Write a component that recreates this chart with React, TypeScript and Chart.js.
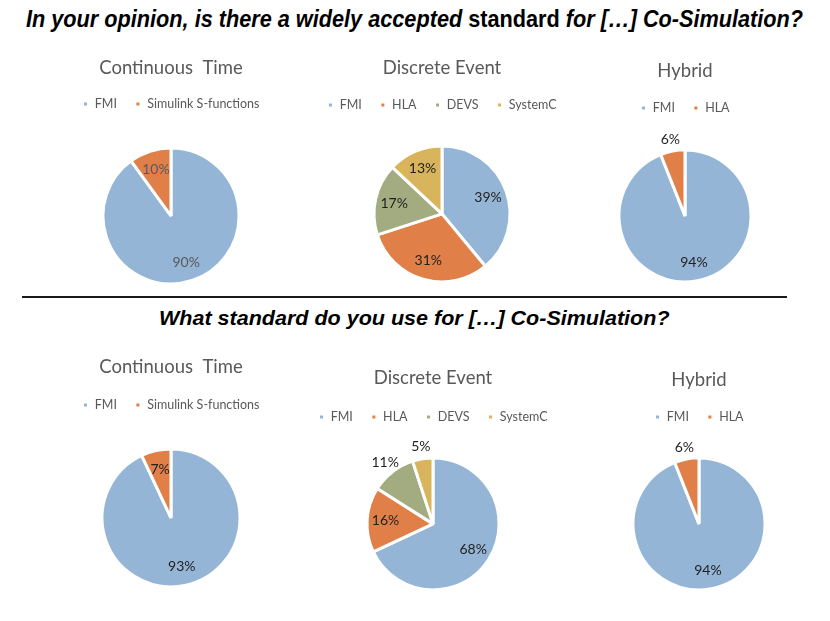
import React, { useEffect, useLayoutEffect, useRef } from "react";
import { Chart, registerables } from "chart.js";

Chart.register(...registerables);

// ---------- data ----------
const ctLabels = ["FMI", "Simulink S-functions"];
const deLabels = ["FMI", "HLA", "DEVS", "SystemC"];
const hyLabels = ["FMI", "HLA"];

const opinionCT = [90, 10];
const opinionDE = [39, 31, 17, 13];
const opinionHY = [94, 6];

const useCT = [93, 7];
const useDE = [68, 16, 11, 5];
const useHY = [94, 6];

const titleCT = "Continuous  Time";
const titleDE = "Discrete Event";
const titleHY = "Hybrid";

const heading1a = "In your opinion, is there a widely accepted ";
const heading1b = "standard";
const heading1c = " for [\u2026] Co-Simulation?";
const heading2 = "What standard do you use for [\u2026] Co-Simulation?";

// ---------- styles ----------
const FONT = "Lato, 'Open Sans', sans-serif";
const BLUE = "#95B5D6";
const ORANGE = "#E08048";
const GREEN = "#A3AC80";
const YELLOW = "#D8B45C";
const colorsCT = [BLUE, ORANGE];
const colorsDE = [BLUE, ORANGE, GREEN, YELLOW];
const colorsHY = [BLUE, ORANGE];

const TITLE_FS = 18.5;
const LEGEND_FS = 12.5;
const LEGEND_PAD = 18;
const LEGEND_H = 30;

const sliceLabels = {
  id: "sliceLabels",
  afterDatasetsDraw(chart: any, _args: any, opts: any) {
    const { ctx } = chart;
    const meta = chart.getDatasetMeta(0);
    const data = chart.data.datasets[0].data as number[];
    ctx.save();
    ctx.font = `14px ${FONT}`;
    ctx.fillStyle = opts.color || "#222";
    ctx.textAlign = "center";
    ctx.textBaseline = "middle";
    meta.data.forEach((arc: any, i: number) => {
      const p = arc.getProps(["x", "y", "startAngle", "endAngle", "outerRadius"], true);
      const mid = (p.startAngle + p.endAngle) / 2;
      const out = opts.outside && opts.outside[i];
      const rr = out ? p.outerRadius + 12 : p.outerRadius * 0.72;
      ctx.fillText(`${data[i]}%`, p.x + Math.cos(mid) * rr, p.y + Math.sin(mid) * rr);
    });
    ctx.restore();
  },
};

type PieCfg = {
  title: string;
  labels: string[];
  values: number[];
  colors: string[];
  cx: number;
  cy: number;
  r: number;
  titleY: number;
  legendY: number;
  labelColor: string;
  outside: boolean[];
};

function PieChart({ cfg }: { cfg: PieCfg }) {
  const ref = useRef<HTMLCanvasElement>(null);
  const W = 270;
  const lh = TITLE_FS * 1.2;
  const T = Math.round(cfg.titleY - 16);
  const tp = cfg.titleY - lh / 2 - T;
  const legendTop = cfg.legendY - LEGEND_PAD - LEGEND_FS / 2;
  const tb = legendTop - (T + tp + lh);
  const chartTop = legendTop + LEGEND_H;
  const H = Math.round(2 * cfg.cy - chartTop - T);
  const left = Math.round(cfg.cx - W / 2);

  useEffect(() => {
    const chart = new Chart(ref.current as HTMLCanvasElement, {
      type: "pie",
      data: {
        labels: cfg.labels,
        datasets: [
          {
            data: cfg.values,
            backgroundColor: cfg.colors,
            borderColor: "#ffffff",
            borderWidth: 3,
          },
        ],
      },
      options: {
        animation: false,
        responsive: false,
        radius: cfg.r + 1,
        layout: { padding: 0 },
        plugins: {
          title: {
            display: true,
            text: cfg.title,
            color: "#595959",
            font: { family: FONT, size: TITLE_FS, weight: "normal", lineHeight: 1.2 },
            padding: { top: tp, bottom: tb },
          },
          legend: {
            display: true,
            position: "top",
            maxHeight: LEGEND_H,
            labels: {
              boxWidth: 6,
              boxHeight: 6,
              color: "#595959",
              padding: LEGEND_PAD,
              font: { family: FONT, size: LEGEND_FS },
            },
          },
          tooltip: { enabled: false },
          sliceLabels: { color: cfg.labelColor, outside: cfg.outside },
        } as any,
      },
      plugins: [sliceLabels as any],
    });
    return () => chart.destroy();
  }, []);

  return (
    <canvas
      ref={ref}
      width={W}
      height={H}
      style={{ position: "absolute", left, top: T, width: W, height: H }}
    />
  );
}

function FitText({
  children,
  x,
  top,
  width,
  size,
}: {
  children: React.ReactNode;
  x: number;
  top: number;
  width: number;
  size: number;
}) {
  const ref = useRef<HTMLSpanElement>(null);
  useLayoutEffect(() => {
    const el = ref.current;
    if (!el) return;
    const w = el.offsetWidth;
    if (w > 0) el.style.transform = `scaleX(${width / w})`;
  }, []);
  return (
    <div style={{ position: "absolute", left: x, top, whiteSpace: "nowrap" }}>
      <span
        ref={ref}
        style={{
          display: "inline-block",
          transformOrigin: "left top",
          fontFamily: "'Liberation Sans', Arial, sans-serif",
          fontWeight: "bold",
          fontStyle: "italic",
          fontSize: size,
          lineHeight: 1,
          color: "#000",
        }}
      >
        {children}
      </span>
    </div>
  );
}

const pies: PieCfg[] = [
  { title: titleCT, labels: ctLabels, values: opinionCT, colors: colorsCT, cx: 171, cy: 216, r: 67, titleY: 68, legendY: 104, labelColor: "#595959", outside: [false, false] },
  { title: titleDE, labels: deLabels, values: opinionDE, colors: colorsDE, cx: 442, cy: 214, r: 67, titleY: 68, legendY: 105, labelColor: "#1f1f1f", outside: [false, false, false, false] },
  { title: titleHY, labels: hyLabels, values: opinionHY, colors: colorsHY, cx: 685, cy: 216, r: 65, titleY: 71, legendY: 108, labelColor: "#1f1f1f", outside: [false, true] },
  { title: titleCT, labels: ctLabels, values: useCT, colors: colorsCT, cx: 171, cy: 518, r: 68, titleY: 367, legendY: 405, labelColor: "#1f1f1f", outside: [false, false] },
  { title: titleDE, labels: deLabels, values: useDE, colors: colorsDE, cx: 433, cy: 524, r: 65, titleY: 378, legendY: 417, labelColor: "#1f1f1f", outside: [false, false, true, true] },
  { title: titleHY, labels: hyLabels, values: useHY, colors: colorsHY, cx: 699, cy: 524, r: 65, titleY: 380, legendY: 417, labelColor: "#1f1f1f", outside: [false, true] },
];

export default function App() {
  return (
    <div
      style={{
        position: "absolute",
        left: 0,
        top: 0,
        width: 830,
        height: 621,
        background: "#ffffff",
        overflow: "hidden",
      }}
    >
      <FitText x={26} top={7} width={777} size={24}>
        {heading1a}
        <span style={{ fontStyle: "normal" }}>{heading1b}</span>
        {heading1c}
      </FitText>
      <div
        style={{
          position: "absolute",
          left: 22,
          top: 296,
          width: 765,
          height: 2,
          background: "#1a1a1a",
        }}
      />
      <FitText x={159} top={309} width={511} size={19.5}>
        {heading2}
      </FitText>
      {pies.map((p, i) => (
        <PieChart key={i} cfg={p} />
      ))}
    </div>
  );
}
